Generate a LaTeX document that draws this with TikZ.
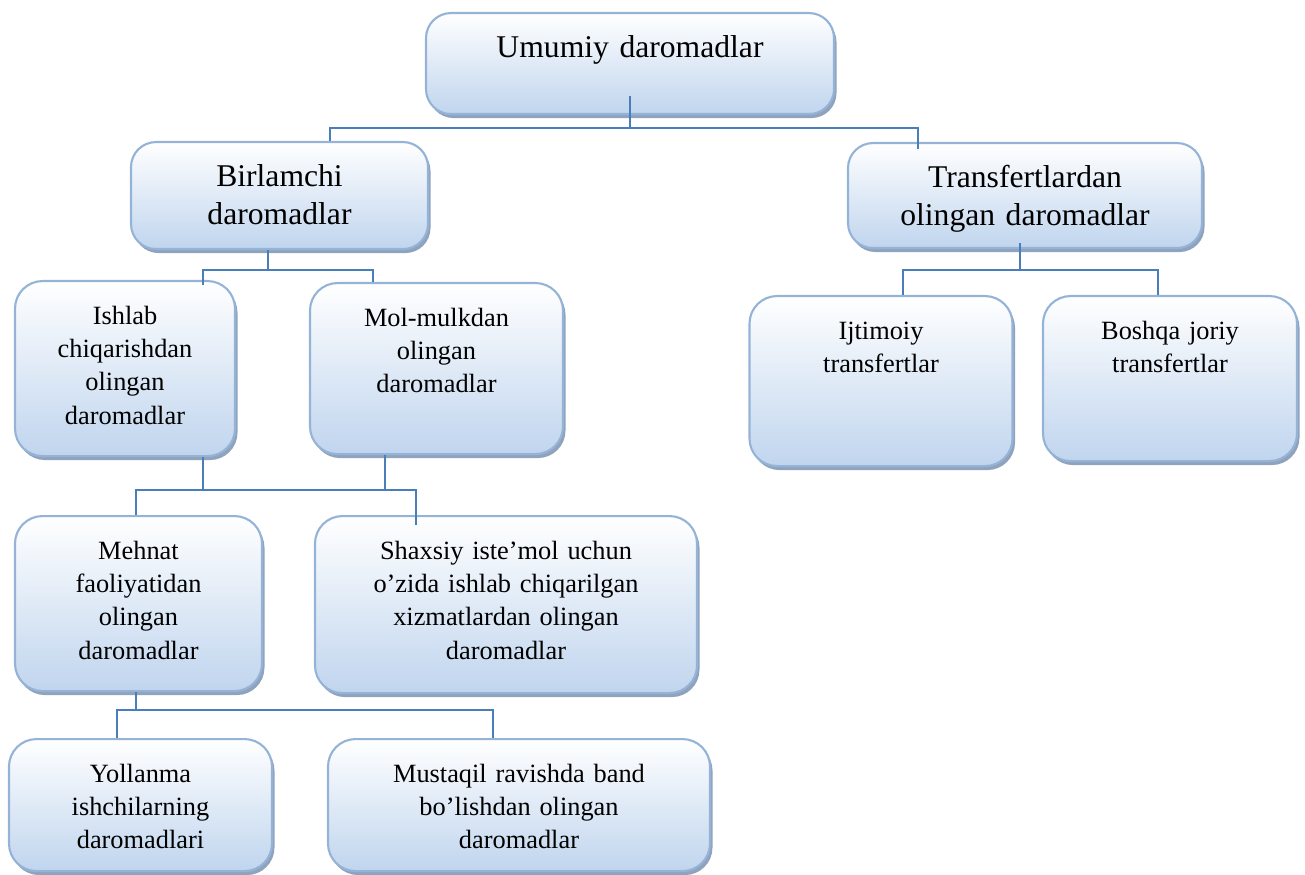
\documentclass[tikz,border=0pt]{standalone}
\usepackage{fontspec}
\setmainfont{Liberation Serif}
\usetikzlibrary{shadows}
\definecolor{tileline}{HTML}{95B3D7}
\definecolor{tilebot}{HTML}{C0D5EE}
\definecolor{tileshadow}{HTML}{8FA3BD}
\definecolor{linkc}{HTML}{4A7EBB}

\begin{document}
\begin{tikzpicture}[
    tile/.style={draw=tileline, line width=1.2pt, rounded corners=0.55cm,
      top color=white, bottom color=tilebot, anchor=north, align=center,
      inner xsep=0pt, inner ysep=0pt, text height=0.86cm,
      drop shadow={shadow xshift=0.05cm, shadow yshift=-0.08cm, fill=tileshadow, opacity=1}},
    big/.style={font=\fontsize{18}{22}\selectfont, text height=0.88cm, rounded corners=0.5cm},
    small/.style={font=\fontsize{15}{19}\selectfont},
    link/.style={draw=linkc, line width=1.1pt}
  ]
  \useasboundingbox (0,0) rectangle (26.1,-17.5);

  % Umumiy daromadlar
  \node[tile, big, text width=8.16cm, text depth=1.14cm] (umumiy) at (12.6,-0.24) {Umumiy daromadlar};

  % Birlamchi va transfertlar
  \node[tile, big, text width=5.94cm, text depth=1.26cm] (birlamchi) at (5.59,-2.82) {Birlamchi\\daromadlar};
  \node[tile, big, text width=7.08cm, text depth=1.22cm] (transfert) at (20.5,-2.84) {Transfertlardan\\olingan daromadlar};

  % Birlamchi daromadlar turlari
  \node[tile, small, text width=4.4cm, text depth=2.64cm] (ishlab) at (2.5,-5.6) {Ishlab\\chiqarishdan\\olingan\\daromadlar};
  \node[tile, small, text width=5.06cm, text depth=2.56cm] (mulk) at (8.73,-5.64) {Mol-mulkdan\\olingan\\daromadlar};

  % Transfertlar turlari
  \node[tile, small, text width=5.26cm, text depth=2.54cm] (ijtimoiy) at (17.62,-5.9) {Ijtimoiy\\transfertlar};
  \node[tile, small, text width=5.08cm, text depth=2.44cm] (boshqa) at (23.4,-5.9) {Boshqa joriy\\transfertlar};

  % Ishlab chiqarishdan olingan daromadlar
  \node[tile, small, text width=4.94cm, text depth=2.64cm] (mehnat) at (2.77,-10.3) {Mehnat\\faoliyatidan\\olingan\\daromadlar};
  \node[tile, small, text width=7.64cm, text depth=2.68cm] (shaxsiy) at (10.12,-10.3) {Shaxsiy iste’mol uchun\\o’zida ishlab chiqarilgan\\xizmatlardan olingan\\daromadlar};

  % Mehnat faoliyatidan olingan daromadlar
  \node[tile, small, text width=5.26cm, text depth=1.78cm] (yollanma) at (2.81,-14.76) {Yollanma\\ishchilarning\\daromadlari};
  \node[tile, small, text width=7.64cm, text depth=1.78cm] (mustaqil) at (10.38,-14.76) {Mustaqil ravishda band\\bo’lishdan olingan\\daromadlar};

  % Bog'lanishlar
  \draw[link] ([yshift=0.38cm]umumiy.south) -- ++(0,-0.64) coordinate (j1);
  \draw[link] ([xshift=1.01cm]birlamchi.north) |- (j1) -| ([xshift=-2.14cm,yshift=-0.14cm]transfert.north);

  \draw[link] ([xshift=-0.23cm]birlamchi.south) -- ++(0,-0.4) coordinate (j2);
  \draw[link] ([xshift=1.56cm,yshift=-0.1cm]ishlab.north) |- (j2) -| ([xshift=-1.27cm]mulk.north);

  \draw[link] ([xshift=-0.1cm,yshift=0.12cm]transfert.south) -- ++(0,-0.54) coordinate (j3);
  \draw[link] ([xshift=0.44cm]ijtimoiy.north) |- (j3) -| ([xshift=-0.24cm]boshqa.north);

  \draw[link] ([xshift=1.56cm]ishlab.south) -- ++(0,-0.66) coordinate (j4);
  \draw[link] ([xshift=-1.03cm]mulk.south) |- (j4);
  \draw[link] ([xshift=-0.05cm]mehnat.north) |- (j4) -| ([xshift=-1.8cm,yshift=-0.2cm]shaxsiy.north);

  \draw[link] ([xshift=-0.05cm]mehnat.south) -- ++(0,-0.36) coordinate (j5);
  \draw[link] ([xshift=-0.47cm]yollanma.north) |- (j5) -| ([xshift=-0.52cm]mustaqil.north);
\end{tikzpicture}
\end{document}
